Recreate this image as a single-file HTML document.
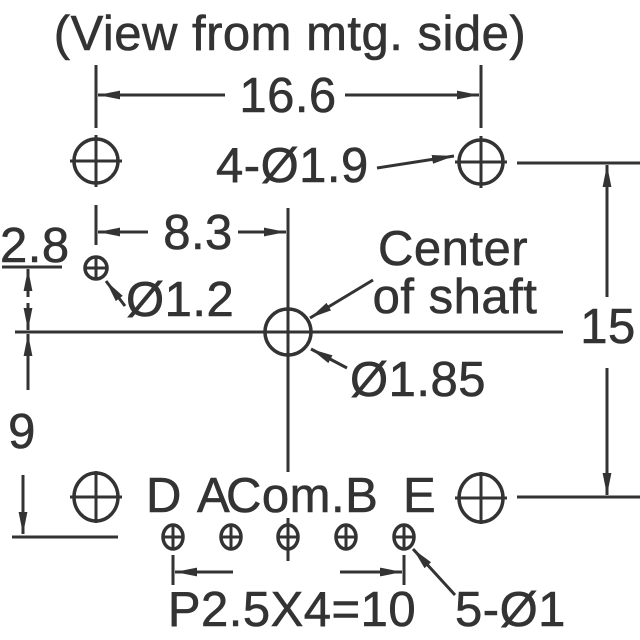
<!DOCTYPE html>
<html><head><style>
html,body{margin:0;padding:0;background:#fff}
svg{display:block}
text{font-family:"Liberation Sans",Arial,sans-serif;fill:#333;font-size:49px;stroke:#333;stroke-width:0.6;letter-spacing:0.5px}
</style></head><body>
<svg width="640" height="640" viewBox="0 0 640 640" xmlns="http://www.w3.org/2000/svg">
<defs>
<marker id="b" viewBox="0 0 20 10" refX="20" refY="5" markerWidth="22" markerHeight="11" markerUnits="userSpaceOnUse" orient="auto">
<path d="M0,1 L20,5 L0,9 z" fill="#333"/></marker>
</defs>
<g stroke="#333" stroke-width="3" fill="none">
<circle cx="96" cy="161" r="22" stroke-width="3.5"/><path d="M70 161H122M96 135V187"/>
<circle cx="481" cy="162" r="22" stroke-width="3.5"/><path d="M455 162H507M481 136V188"/>
<ellipse cx="96" cy="497" rx="22" ry="24" stroke-width="3.5"/><path d="M70 497H122M96 471V523"/>
<ellipse cx="481" cy="498" rx="22" ry="24" stroke-width="3.5"/><path d="M455 498H507M481 472V524"/>
<circle cx="288" cy="332" r="23" stroke-width="3.5"/>
<circle cx="96" cy="268" r="11" stroke-width="3.5"/><path d="M85 268H107M96 257V279"/>
<g>
<ellipse cx="173" cy="537" rx="10" ry="12" stroke-width="3.5"/><path d="M163 537H183M173 525V549"/>
<ellipse cx="231" cy="537" rx="10" ry="12" stroke-width="3.5"/><path d="M221 537H241M231 525V549"/>
<ellipse cx="288" cy="537" rx="10" ry="12" stroke-width="3.5"/><path d="M278 537H298M288 518V561"/>
<ellipse cx="346" cy="537" rx="10" ry="12" stroke-width="3.5"/><path d="M336 537H356M346 525V549"/>
<ellipse cx="404" cy="537" rx="10" ry="12" stroke-width="3.5"/><path d="M394 537H414M404 525V549"/>
</g>
<path d="M15 332H563"/>
<path d="M288 208V472"/>
<path d="M96 65V128M481 65V128"/>
<path d="M225 95H98" marker-end="url(#b)"/>
<path d="M345 95H479" marker-end="url(#b)"/>
<path d="M96 205V245"/>
<path d="M148 232H98" marker-end="url(#b)"/>
<path d="M238 232H286" marker-end="url(#b)"/>
<path d="M2 267H62"/>
<path d="M28 297V269" marker-end="url(#b)"/>
<path d="M28 303V330" marker-end="url(#b)"/>
<path d="M28 390V334" marker-end="url(#b)"/>
<path d="M23 475V534" marker-end="url(#b)"/>
<path d="M12 537H118"/>
<path d="M517 163H640M517 497H640"/>
<path d="M607 297V165" marker-end="url(#b)"/>
<path d="M607 368V495" marker-end="url(#b)"/>
<path d="M404 555V585"/>
<path d="M173 555V585"/>
<path d="M233 572H175" marker-end="url(#b)"/>
<path d="M340 572H402" marker-end="url(#b)"/>
<path d="M377 168L454 156" marker-end="url(#b)"/>
<path d="M373 280L310 318" marker-end="url(#b)"/>
<path d="M347 368L311 349" marker-end="url(#b)"/>
<path d="M125 306L106 281" marker-end="url(#b)"/>
<path d="M455 595L413 549" marker-end="url(#b)"/>
</g>
<text x="290" y="50" text-anchor="middle" font-size="48">(View from mtg. side)</text>
<text x="288" y="112" text-anchor="middle">16.6</text>
<text x="216" y="182">4-Ø1.9</text>
<text x="198" y="249" text-anchor="middle">8.3</text>
<text x="0" y="262">2.8</text>
<text x="126" y="316">Ø1.2</text>
<text x="453" y="265" text-anchor="middle">Center</text>
<text x="455" y="313" text-anchor="middle">of shaft</text>
<text x="608" y="343" text-anchor="middle">15</text>
<text x="350" y="396">Ø1.85</text>
<text x="22" y="448" text-anchor="middle">9</text>
<text x="146" y="512">D</text>
<text x="197" y="512">A</text>
<text x="226" y="512" letter-spacing="-1">Com.B</text>
<text x="403" y="512">E</text>
<text x="292" y="626" text-anchor="middle">P2.5X4=10</text>
<text x="455" y="626">5-Ø1</text>
</svg>
</body></html>
